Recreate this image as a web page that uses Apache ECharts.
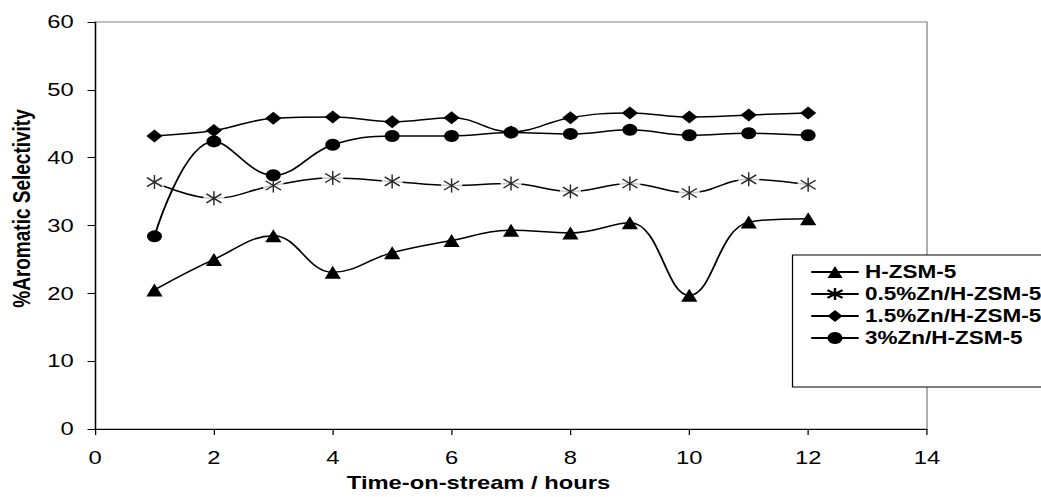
<!DOCTYPE html>
<html>
<head>
<meta charset="utf-8">
<script src="https://cdn.jsdelivr.net/npm/echarts@6/dist/echarts.min.js"></script>
<style>
  html, body { margin: 0; padding: 0; background: #fff; overflow: hidden; }
  #wrap { width: 1041px; height: 497px; overflow: hidden; }
  #chart { width: 833px; height: 497px; transform: scaleX(1.25); transform-origin: 0 0; }
</style>
</head>
<body>
<div id="wrap"><div id="chart"></div></div>
<script>
// Time-on-stream (hours)
const hours = [1, 2, 3, 4, 5, 6, 7, 8, 9, 10, 11, 12];
// % Aromatic selectivity
const hzsm5  = [20.5, 25.0, 28.5, 23.1, 26.0, 27.8, 29.3, 28.9, 30.4, 19.7, 30.5, 31.0];
const zn05   = [36.4, 34.0, 35.9, 37.0, 36.5, 35.9, 36.2, 35.0, 36.2, 34.8, 36.8, 36.0];
const zn15   = [43.2, 44.0, 45.8, 46.0, 45.3, 45.9, 43.8, 45.9, 46.6, 46.0, 46.3, 46.6];
const zn3    = [28.4, 42.4, 37.4, 41.9, 43.2, 43.2, 43.7, 43.5, 44.1, 43.3, 43.6, 43.3];
const seriesNames = ['H-ZSM-5', '0.5%Zn/H-ZSM-5', '1.5%Zn/H-ZSM-5', '3%Zn/H-ZSM-5'];
const xTicks = { min: 0, max: 14, interval: 2 };
const yTicks = { min: 0, max: 60, interval: 10 };

const pair = arr => hours.map((h, i) => [h, arr[i]]);
const starPath = 'path://M6,0L6,14M0,2.5L12,11.5M0,11.5L12,2.5';
const font = '"Liberation Sans", Arial, sans-serif';
const SMOOTH = 0.4;

const chart = echarts.init(document.getElementById('chart'), null, { renderer: 'svg' });
chart.setOption({
  animation: false,
  backgroundColor: '#fff',
  grid: { left: 76, right: 91.4, top: 22, bottom: 63, show: true, borderColor: '#808080', borderWidth: 1, backgroundColor: 'transparent' },
  xAxis: {
    type: 'value', min: xTicks.min, max: xTicks.max, interval: xTicks.interval,
    splitLine: { show: false },
    axisLine: { show: true, lineStyle: { color: '#000', width: 1 } },
    axisTick: { show: true, inside: false, length: 6, lineStyle: { color: '#000' } },
    axisLabel: { color: '#000', fontSize: 19, fontFamily: font, margin: 19 },
    name: 'Time-on-stream / hours', nameLocation: 'middle', nameGap: 44,
    nameTextStyle: { color: '#000', fontSize: 19, fontWeight: 'bold', fontFamily: font, padding: [0, 52, 0, 0] }
  },
  yAxis: {
    type: 'value', min: yTicks.min, max: yTicks.max, interval: yTicks.interval,
    splitLine: { show: false },
    axisLine: { show: true, lineStyle: { color: '#000', width: 1 } },
    axisTick: { show: true, inside: false, length: 6, lineStyle: { color: '#000' } },
    axisLabel: { color: '#000', fontSize: 19, fontFamily: font, margin: 17 },
    name: '%Aromatic Selectivity', nameLocation: 'middle', nameGap: 49,
    nameTextStyle: { color: '#000', fontSize: 19, fontWeight: 'bold', fontFamily: font, padding: [0, 0, 0, 34] }
  },
  legend: {
    data: seriesNames,
    orient: 'vertical', left: 634, top: 255,
    padding: [8, 8, 40, 14],
    itemWidth: 38, itemHeight: 15, itemGap: 4,
    borderColor: '#000', borderWidth: 1, backgroundColor: '#fff',
    textStyle: { color: '#000', fontSize: 18, fontWeight: 'bold', fontFamily: font, lineHeight: 15 },
    z: 20
  },
  series: [
    {
      name: seriesNames[0], type: 'line', data: pair(hzsm5), smooth: SMOOTH, z: 2,
      symbol: 'triangle', symbolSize: 13,
      itemStyle: { color: '#000' }, lineStyle: { color: '#000', width: 1.5 }
    },
    {
      name: seriesNames[1], type: 'line', data: pair(zn05), smooth: SMOOTH, z: 3,
      symbol: starPath, symbolSize: [12, 14], symbolKeepAspect: false,
      itemStyle: { color: 'rgba(0,0,0,0)', borderColor: '#000', borderWidth: 1.2 },
      lineStyle: { color: '#000', width: 1.5 }
    },
    {
      name: 'zn05-gap', type: 'scatter', data: pair(zn05), silent: true, z: 4,
      symbol: 'circle', symbolSize: 17, itemStyle: { color: '#fff' }
    },
    {
      name: 'zn05-star', type: 'scatter', data: pair(zn05), silent: true, z: 5,
      symbol: starPath, symbolSize: [12, 14],
      itemStyle: { color: 'rgba(0,0,0,0)', borderColor: '#000', borderWidth: 1.2 }
    },
    {
      name: seriesNames[2], type: 'line', data: pair(zn15), smooth: SMOOTH, z: 6,
      symbol: 'diamond', symbolSize: 13,
      itemStyle: { color: '#000' }, lineStyle: { color: '#000', width: 1.5 }
    },
    {
      name: seriesNames[3], type: 'line', data: pair(zn3), smooth: SMOOTH, z: 7,
      symbol: 'circle', symbolSize: 12,
      itemStyle: { color: '#000' }, lineStyle: { color: '#000', width: 1.5 }
    }
  ]
});
</script>
</body>
</html>
